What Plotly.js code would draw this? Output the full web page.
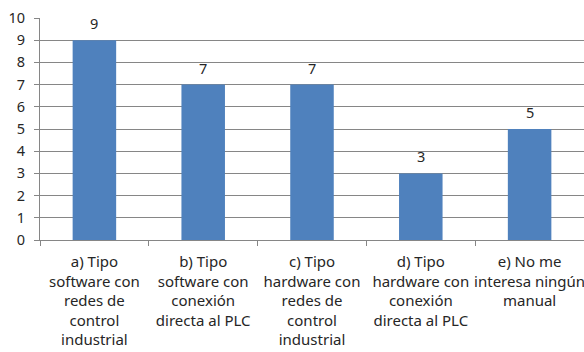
<!DOCTYPE html>
<html>
<head>
<meta charset="utf-8">
<script src="https://cdn.plot.ly/plotly-3.0.1.min.js"></script>
<style>html,body{margin:0;padding:0;background:#fff;overflow:hidden}#chart{width:584px;height:352px}</style>
</head>
<body>
<div id="chart"></div>
<script>
const categories = [
  "a) Tipo<br>software con<br>redes de<br>control<br>industrial",
  "b) Tipo<br>software con<br>conexión<br>directa al PLC",
  "c) Tipo<br>hardware con<br>redes de<br>control<br>industrial",
  "d) Tipo<br>hardware con<br>conexión<br>directa al PLC",
  "e) No me<br>interesa ningún<br>manual"
];
const values = [9, 7, 7, 3, 5];
const yTicks = [0, 1, 2, 3, 4, 5, 6, 7, 8, 9, 10];

const font = "Noto Sans, Open Sans, sans-serif";
const trace = {
  type: "bar",
  x: categories,
  y: values,
  marker: {color: "#4F81BD"},
  hoverinfo: "none"
};
const annotations = categories.map((c, i) => ({
  x: c, y: values[i], xref: "x", yref: "y",
  text: String(values[i]), showarrow: false,
  yanchor: "bottom", yshift: 5,
  font: {family: font, size: 14.5, color: "#262626"}
}));
const layout = {
  width: 584, height: 352,
  margin: {l: 40, r: 0, t: 18, b: 112},
  paper_bgcolor: "#ffffff", plot_bgcolor: "#ffffff",
  bargap: 0.6,
  showlegend: false,
  font: {family: font, size: 14, color: "#262626"},
  xaxis: {
    type: "category",
    showline: true, linecolor: "#868686", linewidth: 1,
    ticks: "outside", tickson: "boundaries", ticklen: 5, tickcolor: "#868686",
    tickangle: 0, automargin: false, ticklabelstandoff: 8,
    tickfont: {family: font, size: 15, color: "#262626"},
    showgrid: false, fixedrange: true
  },
  yaxis: {
    range: [0, 10],
    tickvals: yTicks,
    ticktext: yTicks.map(String),
    showline: true, linecolor: "#868686", linewidth: 1,
    ticks: "outside", ticklen: 5, tickcolor: "#868686",
    showgrid: true, gridcolor: "#868686", gridwidth: 1,
    zeroline: false, automargin: false, ticklabelstandoff: 6,
    tickfont: {family: font, size: 14.5, color: "#262626"},
    fixedrange: true
  },
  annotations: annotations
};
Plotly.newPlot("chart", [trace], layout, {displayModeBar: false, staticPlot: true});
</script>
</body>
</html>
